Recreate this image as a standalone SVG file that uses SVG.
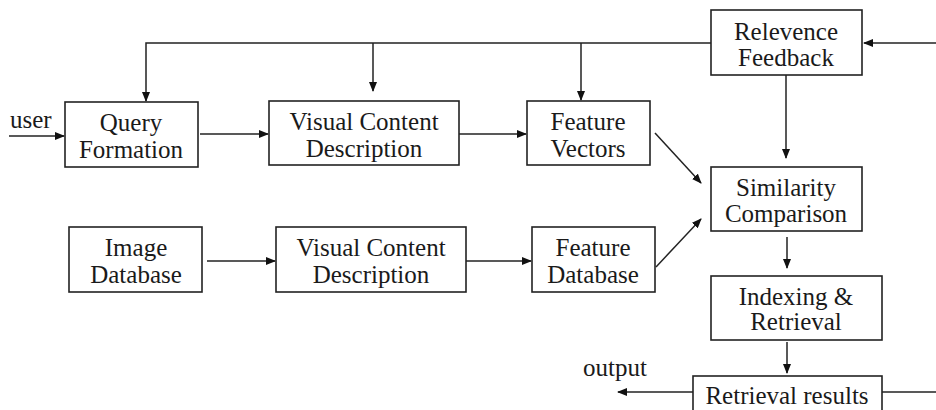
<svg xmlns="http://www.w3.org/2000/svg" width="936" height="410" viewBox="0 0 936 410">
<style>
.box{fill:#fff;stroke:#222;stroke-width:1.6}
.t{font-family:"Liberation Serif","Times New Roman",serif;font-size:25px;fill:#1a1a1a;text-anchor:middle}
.l{font-family:"Liberation Serif","Times New Roman",serif;font-size:25px;fill:#1a1a1a}
.c{fill:none;stroke:#222;stroke-width:1.5}
</style>
<defs>
<marker id="ah" markerWidth="10" markerHeight="8" refX="9" refY="4" orient="auto" markerUnits="userSpaceOnUse">
<path d="M0,0 L10,4 L0,8 Z" fill="#111"/>
</marker>
</defs>
<rect width="936" height="410" fill="#fff"/>
<g id="connectors">
<path class="c" d="M711,43 H146 V101" marker-end="url(#ah)"/>
<path class="c" d="M373,43 V91" marker-end="url(#ah)"/>
<path class="c" d="M581,43 V100" marker-end="url(#ah)"/>
<path class="c" d="M936,43 H864" marker-end="url(#ah)"/>
<path class="c" d="M9,136 H64" marker-end="url(#ah)"/>
<path class="c" d="M200,134 H268" marker-end="url(#ah)"/>
<path class="c" d="M459,134 H526" marker-end="url(#ah)"/>
<path class="c" d="M655,133 L701,183" marker-end="url(#ah)"/>
<path class="c" d="M786,75 V158" marker-end="url(#ah)"/>
<path class="c" d="M207,261 H275" marker-end="url(#ah)"/>
<path class="c" d="M466,261 H531" marker-end="url(#ah)"/>
<path class="c" d="M656,267 L701,219" marker-end="url(#ah)"/>
<path class="c" d="M787,237 V268" marker-end="url(#ah)"/>
<path class="c" d="M787,342 V373" marker-end="url(#ah)"/>
<path class="c" d="M693,392 H618" marker-end="url(#ah)"/>
<path class="c" d="M882,392 H936"/>
</g>
<text class="l" x="10" y="128">user</text>
<text class="l" x="583" y="376">output</text>
<g id="query-formation">
<rect class="box" x="65" y="102" width="133" height="65"/>
<text class="t" x="131" y="131">Query</text>
<text class="t" x="131" y="158">Formation</text>
</g>
<g id="vcd-top">
<rect class="box" x="269" y="101" width="190" height="64"/>
<text class="t" x="364" y="130">Visual Content</text>
<text class="t" x="364" y="157">Description</text>
</g>
<g id="feature-vectors">
<rect class="box" x="527" y="101" width="123" height="64"/>
<text class="t" x="588" y="130">Feature</text>
<text class="t" x="588" y="157">Vectors</text>
</g>
<g id="relevence-feedback">
<rect class="box" x="711" y="10" width="151" height="65"/>
<text class="t" x="786" y="40">Relevence</text>
<text class="t" x="786" y="66">Feedback</text>
</g>
<g id="similarity-comparison">
<rect class="box" x="711" y="167" width="151" height="64"/>
<text class="t" x="786" y="196">Similarity</text>
<text class="t" x="786" y="222">Comparison</text>
</g>
<g id="image-database">
<rect class="box" x="69" y="227" width="133" height="65"/>
<text class="t" x="136" y="256">Image</text>
<text class="t" x="136" y="283">Database</text>
</g>
<g id="vcd-bottom">
<rect class="box" x="276" y="227" width="190" height="65"/>
<text class="t" x="371" y="256">Visual Content</text>
<text class="t" x="371" y="283">Description</text>
</g>
<g id="feature-database">
<rect class="box" x="532" y="227" width="123" height="65"/>
<text class="t" x="593" y="256">Feature</text>
<text class="t" x="593" y="283">Database</text>
</g>
<g id="indexing-retrieval">
<rect class="box" x="711" y="276" width="171" height="64"/>
<text class="t" x="796" y="305">Indexing &amp;</text>
<text class="t" x="796" y="330">Retrieval</text>
</g>
<g id="retrieval-results">
<rect class="box" x="693" y="376" width="189" height="44"/>
<text class="t" x="787" y="404">Retrieval results</text>
</g>
</svg>
